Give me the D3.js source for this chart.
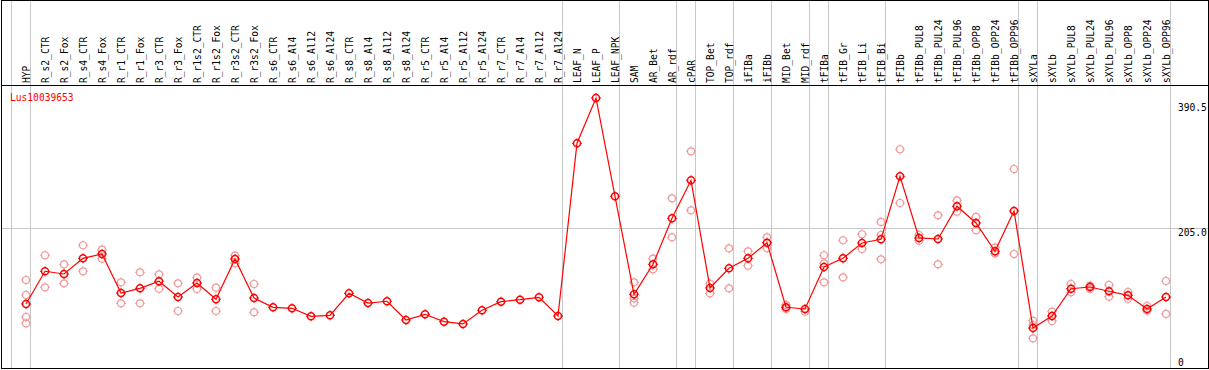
<!DOCTYPE html>
<html>
<head>
<meta charset="utf-8">
<script src="https://cdn.jsdelivr.net/npm/d3@7"></script>
<style>
  body { margin: 0; background: #fff; }
  text { font-family: "DejaVu Sans Mono", monospace; font-size: 9.6px; }
</style>
</head>
<body>
<div id="chart"></div>
<script>
// Sample names (columns)
const samples = ["HYP", "R_s2_CTR", "R_s2_Fox", "R_s4_CTR", "R_s4_Fox", "R_r1_CTR", "R_r1_Fox",
  "R_r3_CTR", "R_r3_Fox", "R_r1s2_CTR", "R_r1s2_Fox", "R_r3s2_CTR", "R_r3s2_Fox",
  "R_s6_CTR", "R_s6_Al4", "R_s6_Al12", "R_s6_Al24", "R_s8_CTR", "R_s8_Al4", "R_s8_Al12", "R_s8_Al24",
  "R_r5_CTR", "R_r5_Al4", "R_r5_Al12", "R_r5_Al24", "R_r7_CTR", "R_r7_Al4", "R_r7_Al12", "R_r7_Al24",
  "LEAF_N", "LEAF_P", "LEAF_NPK", "SAM", "AR_Bet", "AR_rdf", "cPAR", "TOP_Bet", "TOP_rdf",
  "iFIBa", "iFIBb", "MID_Bet", "MID_rdf", "tFIBa", "tFIB_Gr", "tFIB_Li", "tFIB_Bi",
  "tFIBb", "tFIBb_PUL8", "tFIBb_PUL24", "tFIBb_PUL96", "tFIBb_OPP8", "tFIBb_OPP24", "tFIBb_OPP96",
  "sXYLa", "sXYLb", "sXYLb_PUL8", "sXYLb_PUL24", "sXYLb_PUL96", "sXYLb_OPP8", "sXYLb_OPP24", "sXYLb_OPP96"];

// Mean expression per sample
const means = [93.0, 141.4, 137.4, 160.6, 167.0, 109.3, 116.2, 126.6, 103.3, 124.1, 99.9, 159.6, 101.9,
  88.1, 86.6, 74.8, 76.2, 108.8, 94.4, 97.0, 69.3,
  77.7, 66.8, 63.4, 83.6, 96.4, 99.3, 102.9, 75.2,
  330.9, 397.9, 252.4, 107.3, 151.7, 219.8, 276.1, 116.7, 145.8,
  160.6, 183.7, 88.1, 85.6, 147.7, 160.6, 183.3, 188.7,
  282.0, 190.7, 189.2, 237.6, 212.9, 171.0, 230.6,
  57.4, 75.2, 115.6, 118.1, 111.8, 105.8, 85.6, 103.3];

// Replicate values per sample
const replicates = [
  [128.5, 106.3, 73.7, 64.4], [165.1, 117.7], [151.7, 123.6], [179.9, 141.4], [173.4, 160.0],
  [125.1, 94.0], [139.9, 94.0], [136.9, 115.6], [123.6, 82.6], [131.9, 115.2], [117.1, 82.6],
  [164.5, 153.2], [122.6, 80.7],
  [], [], [], [], [], [], [], [],
  [], [], [], [], [], [], [], [],
  [], [], [], [125.1, 101.4, 94.9], [160.0, 144.3], [249.4, 191.7], [319.0, 231.7], [123.0, 108.8], [175.4, 116.2],
  [171.0, 149.7], [191.7, 175.4], [91.5, 85.6], [81.6], [165.1, 153.2, 125.1], [187.3, 132.5], [196.2, 174.4], [214.4, 195.1, 159.1],
  [322.0, 242.5], [195.1, 186.7], [224.3, 151.7], [246.5, 229.6], [221.8, 202.1], [176.3, 168.0], [292.8, 167.0],
  [68.2, 61.9, 42.2], [81.6, 67.8], [122.6, 110.3], [120.1, 115.2], [121.1, 103.8], [110.7, 100.8], [90.0, 83.0], [127.0, 78.2]];

// Group separators: gray line after these sample indices
const groupEnds = [-1, 0, 28, 31, 34, 35, 37, 39, 41, 42, 45, 52, 53, 60];

const yTicks = [0, 205.0, 390.5];
const gridTicks = [205.0];
const geneName = "Lus10039653";

const W = 1209, H = 370;
const headerY = 85.5, bottomY = 368.5;

const svg = d3.select("#chart").append("svg")
  .attr("width", W)
  .attr("height", H);

const x = d3.scaleLinear()
  .domain([0, samples.length - 1])
  .range([26, 1166]);

const y = d3.scaleLinear()
  .domain([0, 390.5])
  .range([366.8, 103]);

// Group separators
svg.selectAll(".sep")
  .data(groupEnds)
  .enter()
  .append("line")
  .attr("x1", d => Math.round(x(d) + 4) + 0.5)
  .attr("x2", d => Math.round(x(d) + 4) + 0.5)
  .attr("y1", 0)
  .attr("y2", bottomY)
  .attr("stroke", "#c8c8c8")
  .attr("stroke-width", 1);

// Horizontal grid
svg.selectAll(".grid")
  .data(gridTicks)
  .enter()
  .append("line")
  .attr("x1", 1)
  .attr("x2", 1208)
  .attr("y1", d => Math.round(y(d)) + 0.5)
  .attr("y2", d => Math.round(y(d)) + 0.5)
  .attr("stroke", "#c8c8c8");

// Frame and header separator
svg.append("rect")
  .attr("x", 1.5)
  .attr("y", 0.5)
  .attr("width", 1207)
  .attr("height", bottomY - 0.5)
  .attr("fill", "none")
  .attr("stroke", "#000")
  .attr("stroke-width", 1);

svg.append("line")
  .attr("x1", 1).attr("x2", 1208)
  .attr("y1", headerY).attr("y2", headerY)
  .attr("stroke", "#000")
  .attr("stroke-width", 1);

// Sample labels, rotated
svg.selectAll(".label")
  .data(samples)
  .enter()
  .append("text")
  .attr("transform", (d, i) => `translate(${x(i) + 3.5},83) rotate(-90)`)
  .attr("fill", "#000")
  .text(d => d);

// Right-hand value labels
svg.selectAll(".ylab")
  .data(yTicks)
  .enter()
  .append("text")
  .attr("x", 1178)
  .attr("y", d => Math.min(y(d) + 8, bottomY - 3))
  .attr("fill", "#000")
  .text(d => d === 0 ? "0" : d.toFixed(1));

// Gene name
svg.append("text")
  .attr("x", 10)
  .attr("y", 101)
  .attr("fill", "#ff0000")
  .text(geneName);

// Marker helper: circle plus small ticks
function marker(g, cx, cy, color, sw) {
  g.append("circle")
    .attr("cx", cx).attr("cy", cy).attr("r", 3.5)
    .attr("fill", "none")
    .attr("stroke", color)
    .attr("stroke-width", sw);
  g.append("path")
    .attr("d", `M${cx - 5},${cy}h1.5M${cx + 3.5},${cy}h1.5M${cx},${cy - 5}v1.5M${cx},${cy + 3.5}v1.5`)
    .attr("stroke", color)
    .attr("stroke-width", 1);
}

// Replicates
const repG = svg.append("g");
replicates.forEach((reps, i) => {
  reps.forEach(v => marker(repG, x(i), y(v), "#f09a9a", 1.2));
});

// Mean line
const line = d3.line()
  .x((d, i) => x(i))
  .y(d => y(d));

svg.append("path")
  .datum(means)
  .attr("d", line)
  .attr("fill", "none")
  .attr("stroke", "#ff0000")
  .attr("stroke-width", 1.2);

const meanG = svg.append("g");
means.forEach((v, i) => marker(meanG, x(i), y(v), "#ff0000", 1.5));
</script>
</body>
</html>
